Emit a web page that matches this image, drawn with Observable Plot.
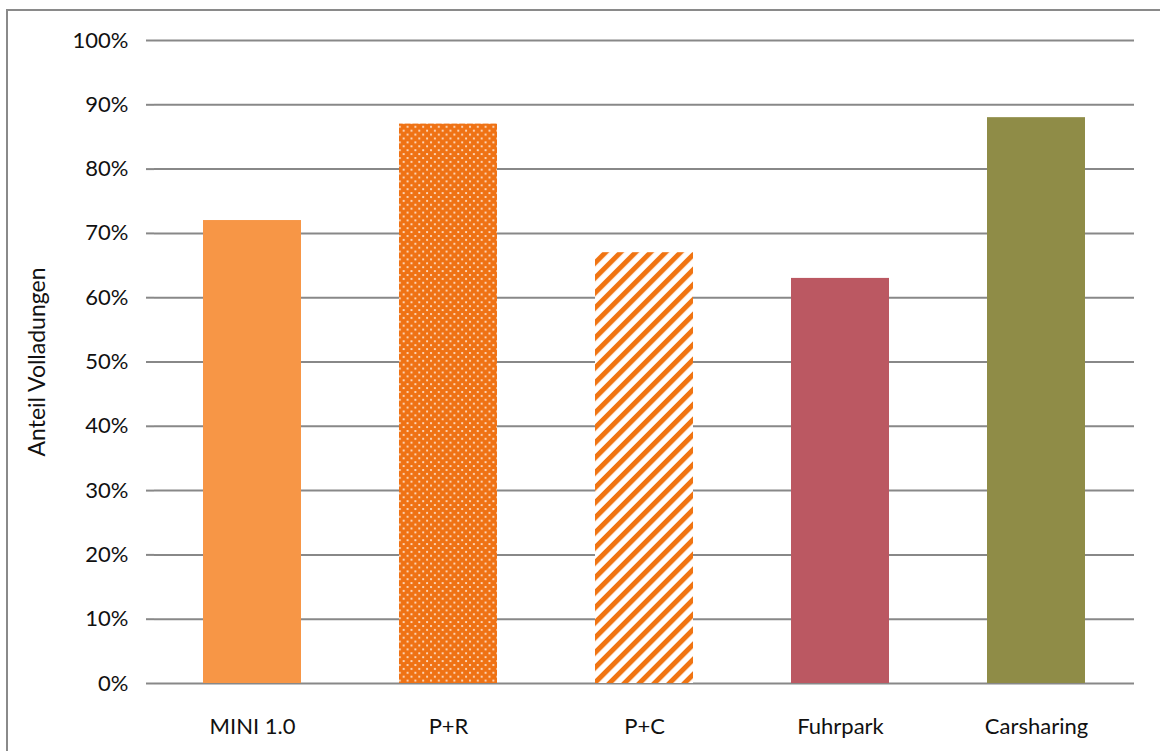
<!DOCTYPE html>
<html>
<head>
<meta charset="utf-8">
<script src="https://cdn.jsdelivr.net/npm/d3@7"></script>
<script src="https://cdn.jsdelivr.net/npm/@observablehq/plot@0.6"></script>
<style>
  html, body { margin: 0; padding: 0; background: #fff; }
  #wrap { position: relative; width: 1160px; height: 751px; overflow: hidden; }
  #frame {
    position: absolute; left: 6px; top: 9px; width: 1200px; height: 800px;
    border-left: 2px solid #8a8a8a; border-top: 2px solid #8a8a8a;
  }
  #chart { position: absolute; left: 0; top: 0; }
</style>
</head>
<body>
<div id="wrap">
  <div id="frame"></div>
  <div id="chart"></div>
</div>
<script>
// Share of full charges per usage type
const categories = ["MINI 1.0", "P+R", "P+C", "Fuhrpark", "Carsharing"];
const shares = [0.72, 0.87, 0.67, 0.63, 0.88];
const yTicks = [0, 0.1, 0.2, 0.3, 0.4, 0.5, 0.6, 0.7, 0.8, 0.9, 1.0];

// Fill per bar: solid colours and two patterns defined below
const barFills = ["#f79646", "url(#dots)", "url(#stripes)", "#bb5862", "#8f8c47"];

const rows = categories.map((c, i) => ({category: c, share: shares[i], fill: barFills[i]}));

const FONT = "Lato, 'Open Sans', sans-serif";
const GRID = "#888888";

const chart = Plot.plot({
  width: 1160,
  height: 751,
  marginLeft: 154,
  marginRight: 26,
  marginTop: 40,
  marginBottom: 68,
  style: {fontFamily: FONT, fontSize: "22px", color: "#111", background: "transparent"},
  x: {domain: categories, paddingInner: 0.5, paddingOuter: 0.25, label: null},
  y: {domain: [0, 1], label: null},
  color: {type: "identity"},
  marks: [
    Plot.gridY(yTicks, {stroke: GRID, strokeOpacity: 1, strokeWidth: 2}),
    Plot.ruleX([0], {frameAnchor: "left", stroke: GRID, strokeWidth: 2}),
    Plot.barY(rows, {x: "category", y: "share", fill: "fill"}),
    Plot.axisY(yTicks, {
      tickFormat: d3.format(".0%"), tickSize: 8, tickPadding: 18,
      stroke: GRID, strokeWidth: 2, fontSize: 22, label: null
    }),
    Plot.axisX({tickSize: 0, tickPadding: 35, fontSize: 22, label: null}),
    Plot.text(["Anteil Volladungen"], {
      frameAnchor: "left", textAnchor: "middle", dx: -117, rotate: -90,
      fontSize: 23, fill: "#111"
    })
  ]
});

// Pattern definitions for the P+R (dotted) and P+C (striped) bars
const defs = d3.select(chart).insert("defs", ":first-child");
const dots = defs.append("pattern")
  .attr("id", "dots").attr("patternUnits", "userSpaceOnUse")
  .attr("width", 7.8).attr("height", 7.8);
dots.append("rect").attr("width", 7.8).attr("height", 7.8).attr("fill", "#ef7214");
dots.append("circle").attr("cx", 2).attr("cy", 2).attr("r", 1.1).attr("fill", "#fde3cf");
dots.append("circle").attr("cx", 5.9).attr("cy", 5.9).attr("r", 1.1).attr("fill", "#fde3cf");

const stripes = defs.append("pattern")
  .attr("id", "stripes").attr("patternUnits", "userSpaceOnUse")
  .attr("width", 10.6).attr("height", 10.6)
  .attr("patternTransform", "rotate(45)");
stripes.append("rect").attr("width", 10.6).attr("height", 10.6).attr("fill", "#ffffff");
stripes.append("rect").attr("width", 5).attr("height", 10.6).attr("fill", "#f07412");

document.getElementById("chart").appendChild(chart);
</script>
</body>
</html>
